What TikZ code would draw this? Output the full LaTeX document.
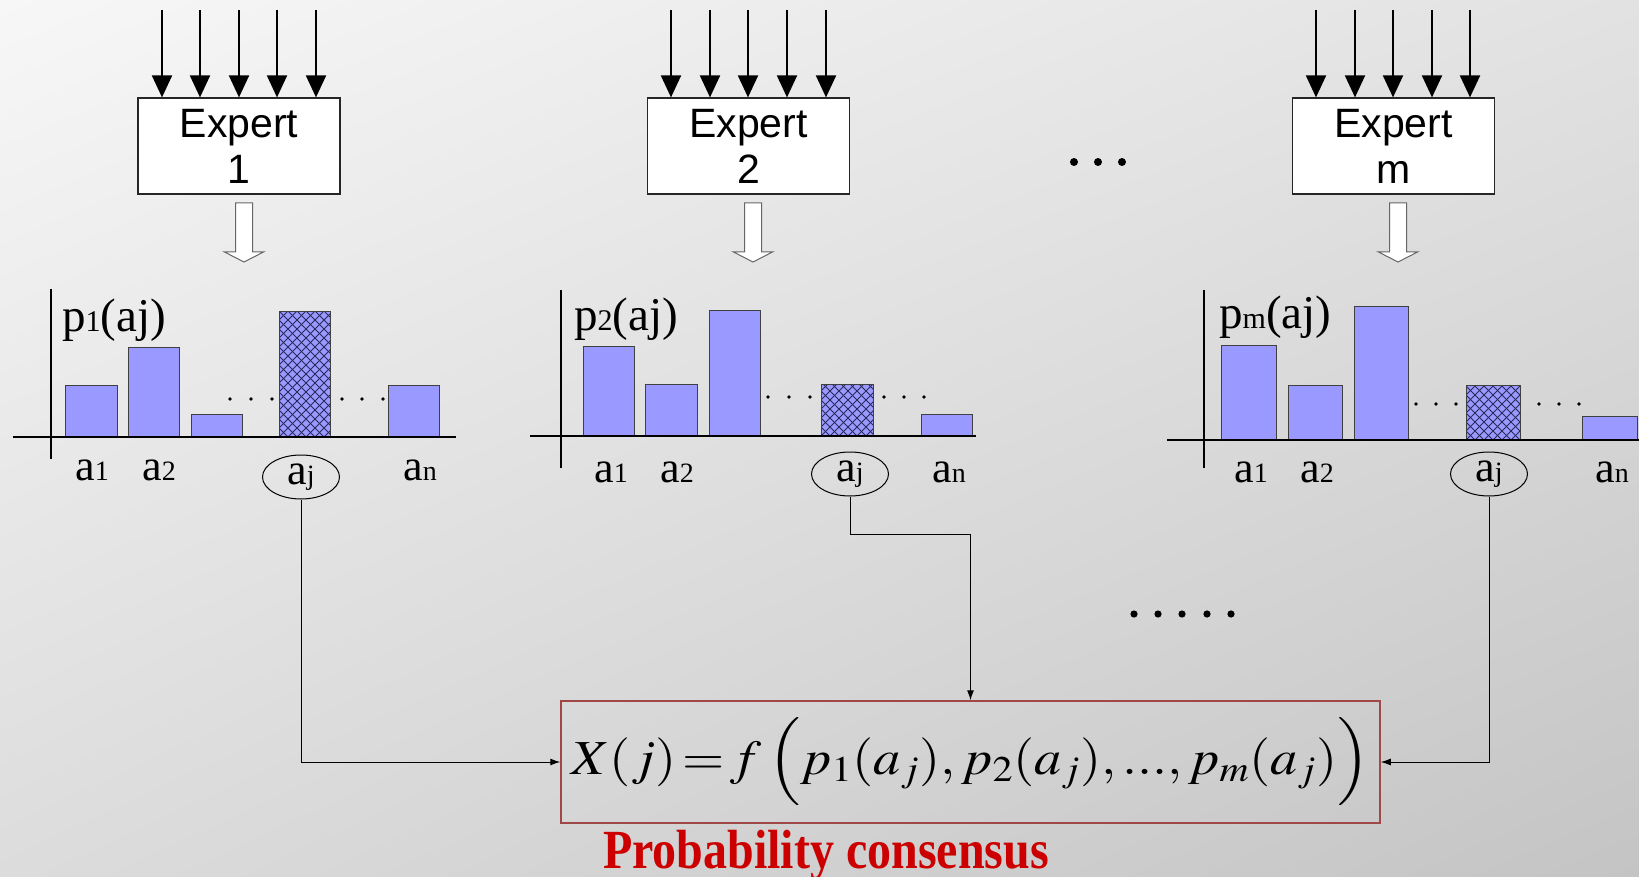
\documentclass[tikz,border=0pt]{standalone}
\usepackage{graphicx}
\usepackage{amsmath}
\usepackage{mathptmx}
\usepackage{fontspec}
\setmainfont{Liberation Serif}
\newfontfamily\arialf{Liberation Sans}
\usetikzlibrary{arrows.meta,shapes.geometric,shadings}
\definecolor{barblue}{HTML}{9999FF}
\definecolor{hatchc}{HTML}{2A2A5A}
\definecolor{boxred}{HTML}{A04848}
\definecolor{conred}{HTML}{CC0000}
\definecolor{bgA}{HTML}{F7F7F7}
\definecolor{bgB}{HTML}{E2E2E2}
\definecolor{bgC}{HTML}{DCDCDC}
\definecolor{bgD}{HTML}{C4C4C4}
\newcommand\smnum[1]{{\fontsize{28}{28}\selectfont #1}}
\newcommand\psmnum[1]{{\fontsize{30}{30}\selectfont #1}}
\newcommand\hatchbar[4]{%
  \fill[barblue] (#1,#4) rectangle (#2,#3);
  \begin{scope}
    \clip (#1,#4) rectangle (#2,#3);
    \foreach \c in {-144,-135,...,200}{
      \draw[hatchline] (#1+\c,#4) -- ++(200,-200);
      \draw[hatchline] (#1+\c,#4) -- ++(-200,-200);
    }
  \end{scope}
  \draw[barline] (#1,#4) rectangle (#2,#3);
}
\newcommand\hollowarrow[1]{%
  \draw[hollow] (#1-8.5,203) -- (#1+8.5,203) -- (#1+8.5,252) -- (#1+19.5,252)
    -- (#1,262) -- (#1-19.5,252) -- (#1-8.5,252) -- cycle;
}
\tikzset{
  expertbox/.style={draw=black!85, line width=1.2pt, fill=white, minimum width=202pt,
    minimum height=96pt, inner sep=0pt, align=center, font=\arialf\fontsize{41}{46}\selectfont},
  inarrow/.style={line width=2pt, -{Triangle[width=20pt,length=22pt]}},
  hollow/.style={draw=black!60, fill=white, line width=1pt},
  axis/.style={line width=2pt, black},
  barstyle/.style={fill=barblue, draw=black!75, line width=1pt},
  barline/.style={draw=black!75, line width=1pt},
  hatchline/.style={draw=hatchc, line width=0.9pt},
  lab/.style={font=\fontsize{44}{44}\selectfont, inner sep=0pt},
  plab/.style={font=\fontsize{47}{47}\selectfont, inner sep=0pt, anchor=west},
  ajnode/.style={lab, ellipse, draw=black, line width=1pt, minimum width=77pt, minimum height=44pt},
  conn/.style={line width=1pt, -{Latex[length=10pt,width=7pt]}},
  cdot/.style={fill=black},
}
\begin{document}
\begin{tikzpicture}[x=1pt,y=-1pt]
\useasboundingbox (0,0) rectangle (1639,877);
\shade[upper left=bgA, upper right=bgB, lower left=bgC, lower right=bgD] (0,0) rectangle (1639,877);

% Expert boxes
\node[expertbox] (e1) at (239,146) {Expert\\1};
\node[expertbox] (e2) at (748.5,146) {Expert\\2};
\node[expertbox] (em) at (1393.5,146) {Expert\\m};
\foreach \x in {162,200,239,277,316} \draw[inarrow] (\x,10) -- (\x,10 |- e1.north);
\foreach \x in {671,710,748,787,826} \draw[inarrow] (\x,10) -- (\x,10 |- e2.north);
\foreach \x in {1316,1355,1393,1432,1470} \draw[inarrow] (\x,10) -- (\x,10 |- em.north);
\hollowarrow{244}
\hollowarrow{753}
\hollowarrow{1398}
\foreach \x in {1074,1098,1122} \fill[cdot] (\x,162) circle (4);
\foreach \x in {1134,1158,1182,1207,1231} \fill[cdot] (\x,614) circle (3.6);

% Chart 1
\draw[barstyle] (65,437) rectangle (117,385);
\draw[barstyle] (128,437) rectangle (179,348);
\draw[barstyle] (191,437) rectangle (242,414);
\hatchbar{279}{330}{312}{437}
\draw[barstyle] (388,437) rectangle (439,385);
\draw[axis] (51,289) -- (51,459);
\draw[axis] (13,437) -- (456,437);
\foreach \x in {230,251,272,342,362,383} \fill[cdot] (\x,399) circle (1.8);
\node[plab] (p1) at (62,320) {p\psmnum{1}(aj)};
\node[lab] (c1a1) at (92,470) {a\smnum{1}};
\node[lab] (c1a2) at (159,470) {a\smnum{2}};
\node[ajnode] (aj1) at (301,477) {a\smnum{j}};
\node[lab] (c1an) at (420,470) {a\smnum{n}};

% Chart 2
\draw[barstyle] (583,436) rectangle (634,347);
\draw[barstyle] (645,436) rectangle (697,384);
\draw[barstyle] (709,436) rectangle (760,311);
\hatchbar{821}{873}{384}{436}
\draw[barstyle] (921,436) rectangle (972,414);
\draw[axis] (561,290) -- (561,468);
\draw[axis] (530,436) -- (976,436);
\foreach \x in {768,789,810,884,904,924} \fill[cdot] (\x,397) circle (1.8);
\node[plab] (p2) at (574,319) {p\psmnum{2}(aj)};
\node[lab] (c2a1) at (611,472) {a\smnum{1}};
\node[lab] (c2a2) at (677,472) {a\smnum{2}};
\node[ajnode] (aj2) at (850,474) {a\smnum{j}};
\node[lab] (c2an) at (949,472) {a\smnum{n}};

% Chart m
\draw[barstyle] (1221,440) rectangle (1276,346);
\draw[barstyle] (1288,440) rectangle (1342,385);
\draw[barstyle] (1354,440) rectangle (1408,307);
\hatchbar{1466}{1520}{385}{440}
\draw[barstyle] (1582,440) rectangle (1637,416);
\draw[axis] (1204,290) -- (1204,468);
\draw[axis] (1167,440) -- (1639,440);
\foreach \x in {1416,1436,1456,1539,1559,1579} \fill[cdot] (\x,404) circle (1.8);
\node[plab] (pm) at (1219,317) {p\psmnum{m}(aj)};
\node[lab] (cma1) at (1251,472) {a\smnum{1}};
\node[lab] (cma2) at (1317,472) {a\smnum{2}};
\node[ajnode] (ajm) at (1489,474) {a\smnum{j}};
\node[lab] (cman) at (1612,472) {a\smnum{n}};

% Formula
\node[draw=boxred, line width=1.5pt, minimum width=819pt, minimum height=122pt, inner sep=0pt]
  (formula) at (970.5,762)
  {\resizebox*{798pt}{88pt}{\fontsize{60}{66}\selectfont $X(j)\!=\!f\,\Big(p_1(a_j),p_2(a_j),{.}{.}{.},p_m(a_j)\Big)$}};
\node[font=\bfseries\fontsize{48}{48}\selectfont, text=conred, inner sep=0pt] (pc) at (826,855) {\scalebox{1}[1.15]{Probability consensus}};

% Connectors
\draw[conn] (aj1.south) |- (formula.west);
\draw[conn] (aj2.south) -- ++(0,38) -| (formula.north);
\draw[conn] (ajm.south) |- (formula.east);
\end{tikzpicture}
\end{document}
